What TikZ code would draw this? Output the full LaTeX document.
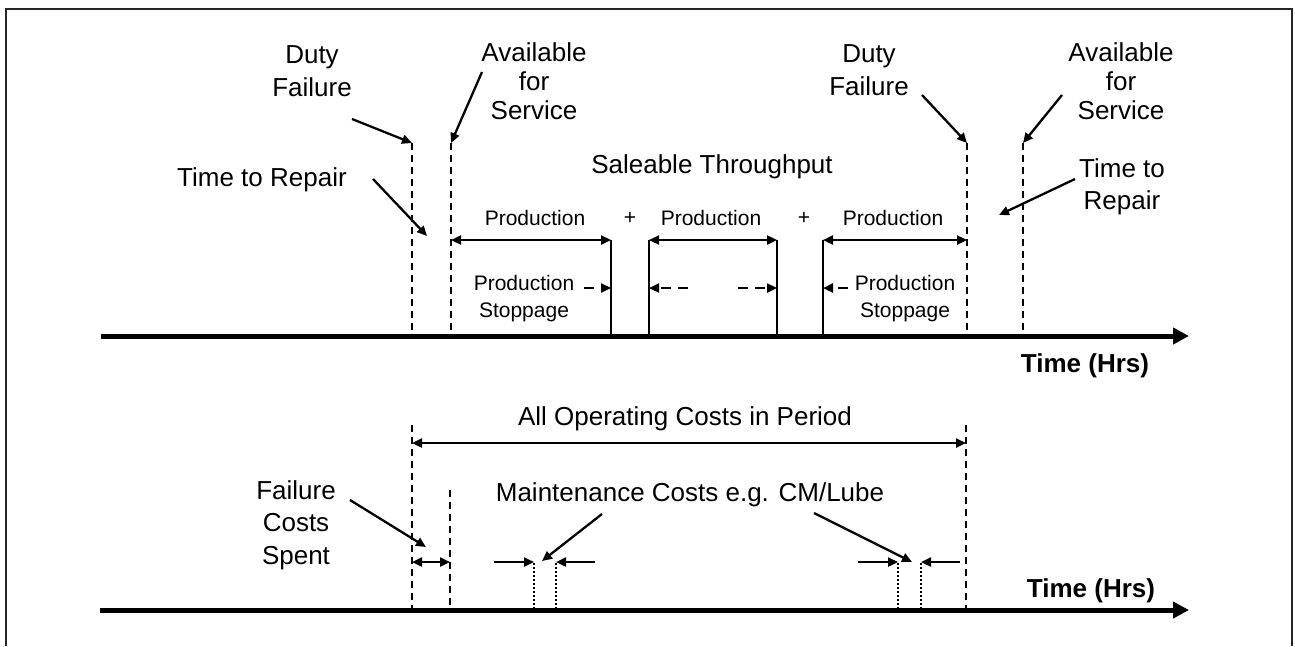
\documentclass[tikz,border=0pt]{standalone}
\usepackage{fontspec}
\setmainfont{Liberation Sans}
\usetikzlibrary{arrows.meta}
\begin{document}
\begin{tikzpicture}[x=1pt,y=-1pt,
  bigtext/.style={font=\fontsize{26}{30}\selectfont, inner sep=0pt, align=center},
  smalltext/.style={font=\fontsize{21}{27}\selectfont, inner sep=0pt, align=center},
  boldtext/.style={font=\fontsize{26}{30}\selectfont\bfseries, inner sep=0pt},
  axisline/.style={line width=5pt, -{Triangle[length=16pt,width=16pt]}},
  ptr/.style={line width=2.3pt, -{Triangle[length=10pt,width=9pt]}},
  dimarrow/.style={line width=2.3pt, {Triangle[length=10pt,width=9pt]}-{Triangle[length=10pt,width=9pt]}},
  dashptr/.style={line width=2.3pt, dash pattern=on 10pt off 7pt, -{Triangle[length=10pt,width=9pt]}},
  vdash/.style={line width=2pt, dash pattern=on 7pt off 5pt},
  vdot/.style={line width=1.8pt, dash pattern=on 2pt off 2pt},
  vsolid/.style={line width=2pt},
  frameline/.style={line width=2.2pt, black!85}]
\useasboundingbox (0,0) rectangle (1295,646);
% frame
\coordinate (fbl) at (6,646); \coordinate (ftl) at (6,9);
\coordinate (ftr) at (1292,9); \coordinate (fbr) at (1292,646);
\draw[frameline] (fbl) -- (ftl) -- (ftr) -- (fbr);

% ===== top time line =====
\coordinate (ax1s) at (101,336); \coordinate (ax1e) at (1189,336);
\foreach \n/\x/\t in {df1/412/143, av1/451/143, df2/967/143, av2/1023/143}{
  \coordinate (\n t) at (\x,\t); \coordinate (\n b) at (\x,336);
  \draw[vdash] (\n t) -- (\n b);}
\foreach \n/\x in {s1/611, s2/649, s3/777, s4/823}{
  \coordinate (\n t) at (\x,240); \coordinate (\n b) at (\x,336);
  \draw[vsolid] (\n t) -- (\n b);}
\draw[axisline] (ax1s) -- (ax1e);
\node[boldtext] (time1) at (1085,366) {Time (Hrs)};

% production spans
\coordinate (p1l) at (451,240);
\draw[dimarrow] (p1l) -- (s1t);
\draw[dimarrow] (s2t) -- (s3t);
\coordinate (p3r) at (967,240);
\draw[dimarrow] (s4t) -- (p3r);
\node[smalltext] (prod1) at (535,218) {Production};
\node[smalltext] (plus1) at (630,218) {+};
\node[smalltext] (prod2) at (711,218) {Production};
\node[smalltext] (plus2) at (804,218) {+};
\node[smalltext] (prod3) at (893,218) {Production};
\node[bigtext] (sale) at (712,167) {Saleable Throughput};

% production stoppages
\node[smalltext, font=\fontsize{21}{27}\selectfont] (stop1) at (524,299) {Production\\Stoppage};
\coordinate (st1a) at (584,288); \coordinate (st1b) at (611,288);
\draw[dashptr] (st1a) -- (st1b);
\coordinate (st2a) at (688,288); \coordinate (st2b) at (649,288);
\draw[dashptr] (st2a) -- (st2b);
\coordinate (st3a) at (738,288); \coordinate (st3b) at (777,288);
\draw[dashptr] (st3a) -- (st3b);
\coordinate (st4a) at (848,288); \coordinate (st4b) at (823,288);
\draw[dashptr] (st4a) -- (st4b);
\node[smalltext, font=\fontsize{21}{27}\selectfont] (stop2) at (905,299) {Production\\Stoppage};

% labels with pointers
\node[bigtext, font=\fontsize{26}{33}\selectfont] (duty1) at (312,71) {Duty\\Failure};
\coordinate (duty1p) at (352,119);
\draw[ptr] (duty1p) -- (df1t);
\node[bigtext, font=\fontsize{26}{29}\selectfont] (avail1) at (534,81) {Available\\for\\Service};
\coordinate (avail1p) at (482,72);
\draw[ptr] (avail1p) -- (av1t);
\node[bigtext] (ttr1) at (262,180) {Time to Repair};
\coordinate (ttr1p) at (373,179); \coordinate (ttr1q) at (427,236);
\draw[ptr] (ttr1p) -- (ttr1q);

\node[bigtext, font=\fontsize{26}{33}\selectfont] (duty2) at (869,70) {Duty\\Failure};
\coordinate (duty2p) at (922,95);
\draw[ptr] (duty2p) -- (df2t);
\node[bigtext, font=\fontsize{26}{29}\selectfont] (avail2) at (1121,81) {Available\\for\\Service};
\coordinate (avail2p) at (1062,95);
\draw[ptr] (avail2p) -- (av2t);
\node[bigtext, font=\fontsize{26}{32}\selectfont] (ttr2) at (1122,187) {Time to\\Repair};
\coordinate (ttr2p) at (1075,179); \coordinate (ttr2q) at (999,215);
\draw[ptr] (ttr2p) -- (ttr2q);

% ===== bottom time line =====
\coordinate (ax2s) at (100,610); \coordinate (ax2e) at (1189,610);
\coordinate (c1t) at (412,425); \coordinate (c1b) at (412,610);
\coordinate (c2t) at (450,490); \coordinate (c2b) at (450,610);
\coordinate (c3t) at (966,425); \coordinate (c3b) at (966,610);
\draw[vdash] (c1t) -- (c1b);
\draw[vdash] (c2t) -- (c2b);
\draw[vdash] (c3t) -- (c3b);
\foreach \n/\x in {m1/534, m2/556, m3/898, m4/921}{
  \coordinate (\n t) at (\x,563); \coordinate (\n b) at (\x,610);
  \draw[vdot] (\n t) -- (\n b);}
\draw[axisline] (ax2s) -- (ax2e);
\node[boldtext] (time2) at (1091,591) {Time (Hrs)};

% all operating costs
\coordinate (oc1) at (412,443); \coordinate (oc2) at (966,443);
\draw[dimarrow] (oc1) -- (oc2);
\node[bigtext] (allop) at (685,419) {All Operating Costs in Period};

% failure costs
\node[bigtext, font=\fontsize{26}{32.5}\selectfont] (fcs) at (296,525) {Failure\\Costs\\Spent};
\coordinate (fcsp) at (350,500); \coordinate (fcsq) at (426,547);
\draw[ptr] (fcsp) -- (fcsq);
\coordinate (fc1) at (412,562); \coordinate (fc2) at (450,562);
\draw[dimarrow] (fc1) -- (fc2);

% maintenance costs
\node[bigtext] (maint) at (690,495) {Maintenance Costs e.g. CM/Lube};
\coordinate (mc1a) at (494,562); \coordinate (mc1b) at (534,562);
\coordinate (mc2a) at (595,562); \coordinate (mc2b) at (556,562);
\draw[ptr] (mc1a) -- (mc1b);
\draw[ptr] (mc2a) -- (mc2b);
\coordinate (mp1a) at (602,514); \coordinate (mp1b) at (542,561);
\draw[ptr] (mp1a) -- (mp1b);
\coordinate (mc3a) at (858,562); \coordinate (mc3b) at (898,562);
\coordinate (mc4a) at (960,562); \coordinate (mc4b) at (921,562);
\draw[ptr] (mc3a) -- (mc3b);
\draw[ptr] (mc4a) -- (mc4b);
\coordinate (mp2a) at (814,513); \coordinate (mp2b) at (912,562);
\draw[ptr] (mp2a) -- (mp2b);
\end{tikzpicture}
\end{document}
